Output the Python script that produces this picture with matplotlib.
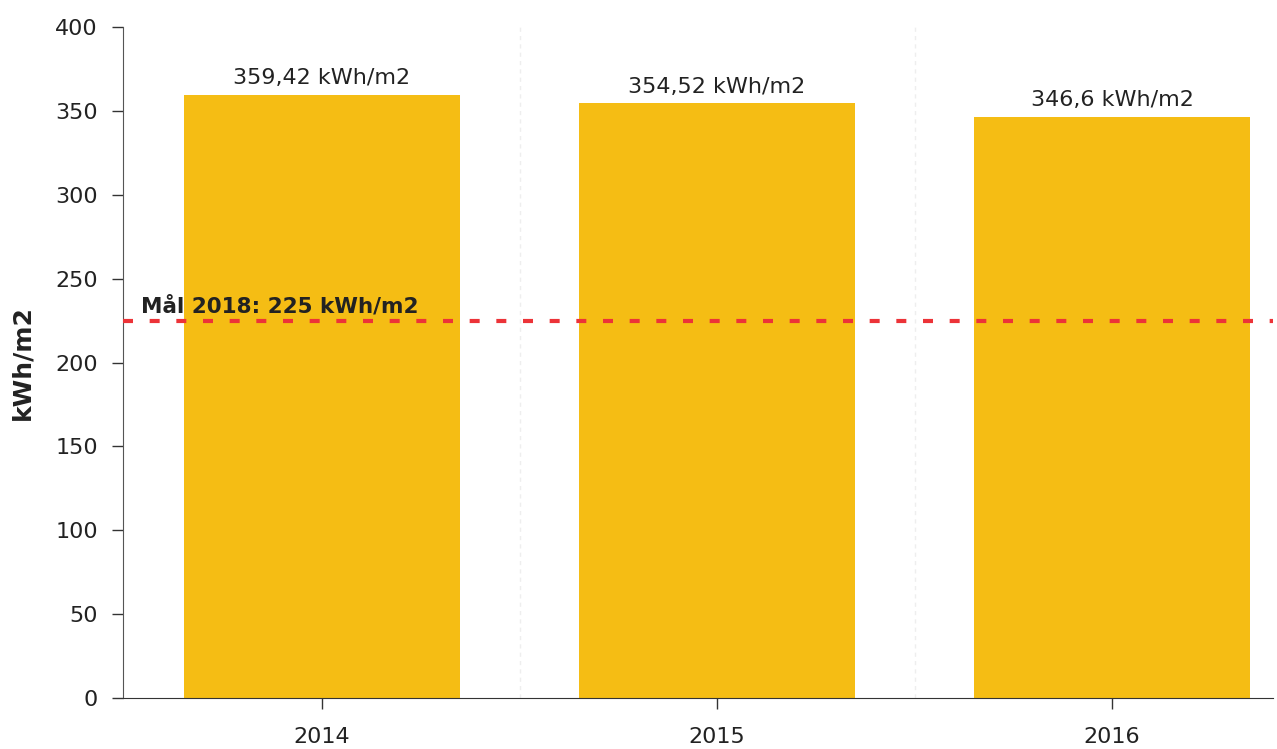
import matplotlib
matplotlib.use("Agg")
import matplotlib.pyplot as plt

years = ["2014", "2015", "2016"]
values = [359.42, 354.52, 346.6]
value_labels = ["359,42 kWh/m2", "354,52 kWh/m2", "346,6 kWh/m2"]
target = 225
target_label = "Mål 2018: 225 kWh/m2"
yticks = [0, 50, 100, 150, 200, 250, 300, 350, 400]

plt.rcParams['font.family'] = ['DejaVu Sans']

fig = plt.figure(figsize=(12.77, 7.49), dpi=100)
ax = fig.add_axes([0.0963, 0.068, 0.9007, 0.896])

x = list(range(len(years)))
ax.bar(x, values, width=0.70, color="#F5BD14", zorder=2)

for xi, v, lab in zip(x, values, value_labels):
    ax.text(xi, v + 4, lab, ha="center", va="bottom", fontsize=16, color="#222222", zorder=4)

for b in [0.5, 1.5]:
    ax.axvline(b, color="#eeeeee", lw=1, linestyle=(0, (3, 3)), zorder=1)

ax.axhline(target, color="#EC3338", lw=3, linestyle=(0, (2.4, 4)), zorder=3)
ax.text(-0.458, target + 2.5, target_label, ha="left", va="bottom", fontsize=15.5,
        fontweight="bold", color="#222222", zorder=4)

ax.set_xlim(-0.504, 2.408)
ax.set_ylim(0, 400)
ax.set_xticks(x)
ax.set_xticklabels(years)
ax.set_yticks(yticks)
ax.tick_params(axis="both", labelsize=16, colors="#333333", length=8, width=1)
ax.tick_params(axis="x", pad=13)
ax.tick_params(axis="y", pad=10)
for lab in ax.get_xticklabels() + ax.get_yticklabels():
    lab.set_color("#222222")

for s in ["top", "right"]:
    ax.spines[s].set_visible(False)
ax.spines["left"].set_color("#555555")
ax.spines["bottom"].set_color("#333333")

ax.set_ylabel("kWh/m2", fontsize=18, fontweight="bold", color="#222222", labelpad=12)
ax.yaxis.set_label_coords(-0.077, 0.5)

fig.savefig("out.png", dpi=100)
